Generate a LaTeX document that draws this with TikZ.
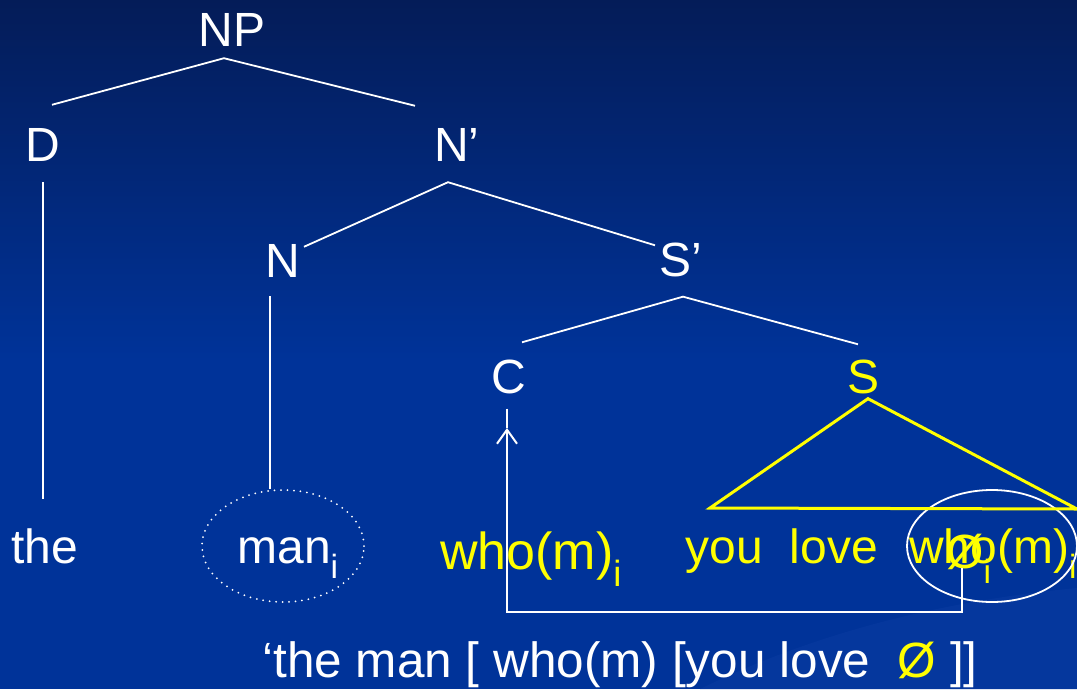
\documentclass[tikz,border=0pt]{standalone}
\usepackage{fontspec}
\setmainfont{Liberation Sans}
\usepackage{tikz}
\usetikzlibrary{arrows.meta, positioning, calc, shapes.geometric}
\definecolor{bgtop}{RGB}{4, 28, 88}
\definecolor{bgbot}{RGB}{0, 51, 153}
\definecolor{swoosh}{RGB}{5, 55, 157}
\definecolor{hilite}{RGB}{255, 255, 0}
\newcommand{\slidefont}{\fontsize{48}{54}\selectfont}

\begin{document}
\begin{tikzpicture}[x=1pt, y=-1pt,
    lab/.style={text=white, font=\slidefont, inner sep=0pt, anchor=base},
    ylab/.style={lab, text=hilite},
    branch/.style={draw=white, line width=1.8pt},
    ybranch/.style={draw=hilite, line width=3pt},
    link/.style={draw=white, line width=2pt}]
    % background
    \useasboundingbox (0,0) rectangle (1077,689);
    \shade[top color=bgtop, bottom color=bgbot] (0,0) rectangle (1077,360);
    \fill[bgbot] (0,360) rectangle (1077,689);
    \fill[swoosh] (700,689) .. controls (820,630) and (950,600) .. (1077,588) -- (1077,689) -- cycle;

    % tree labels
    \node[lab] (NP) at (232,46) {NP};
    \node[lab] (D) at (43,161) {D};
    \node[lab] (Nbar) at (457,161) {N’};
    \node[lab] (N) at (283,277) {N};
    \node[lab] (Sbar) at (681,276) {S’};
    \node[lab] (C) at (509,393) {C};
    \node[ylab] (S) at (863,393) {S};

    % words
    \node[lab] (the) at (45,563) {the};
    \node[lab] (man) at (288,563) {man\textsubscript{i}};
    \node[ylab, font=\fontsize{52}{58}\selectfont] (who) at (531,569) {who(m)\textsubscript{i}};
    \node[ylab] (youlove) at (782,563) {you~~love};
    \node[ylab, anchor=base west] (whotrace) at (909,563) {who(m)\textsubscript{i}};
    \node[ylab, anchor=base west] (zero) at (946,568) {Ø\textsubscript{i}};

    % circles
    \node[ellipse, draw=white, line width=2pt, line cap=round, dash pattern=on 0pt off 6.5pt,
          minimum width=162pt, minimum height=112pt, inner sep=0pt] (ring) at (283,546) {};
    \node[ellipse, draw=white, line width=1.8pt,
          minimum width=170pt, minimum height=112pt, inner sep=0pt] (trace) at (992,546) {};

    % branches
    \draw[branch] ($(D.north)+(9,-23)$) -- ($(NP.south)+(-8,12)$) -- ($(Nbar.north)+(-42,-22)$);
    \draw[branch] ($(N.north)+(21,3)$) -- ($(Nbar.south)+(-9,21)$) -- ($(Sbar.north)+(-26,3)$);
    \draw[branch] ($(C.north)+(13,-17)$) -- ($(Sbar.south)+(2,20)$) -- ($(S.north)+(-5,-15)$);
    \draw[branch] ($(D.south)+(0,21)$) -- ($(the.north)+(-2,-29)$);
    \draw[branch] ($(N.south)+(-13,19)$) -- ([xshift=-13pt]ring.north);

    % triangle under S
    \coordinate (tl) at (710,508);
    \coordinate (tr) at (1077,509);
    \draw[ybranch] ($(S.south)+(5,5)$) -- (tl) -- (tr) -- cycle;

    % movement
    \coordinate (bend) at (962,612);
    \coordinate (tip) at (507,428);
    \draw[link, -{Straight Barb[length=14pt, width=20pt]}] (zero.base -| bend) -- (bend) -| (tip);
    \draw[link] ($(C.south)+(-2,15)$) -- (tip);

    % gloss
    \node[lab, font=\fontsize{49.5}{56}\selectfont] (gloss) at (620,677) {‘the man [ who(m) [you love~~{\color{hilite}Ø} ]]};
\end{tikzpicture}
\end{document}
